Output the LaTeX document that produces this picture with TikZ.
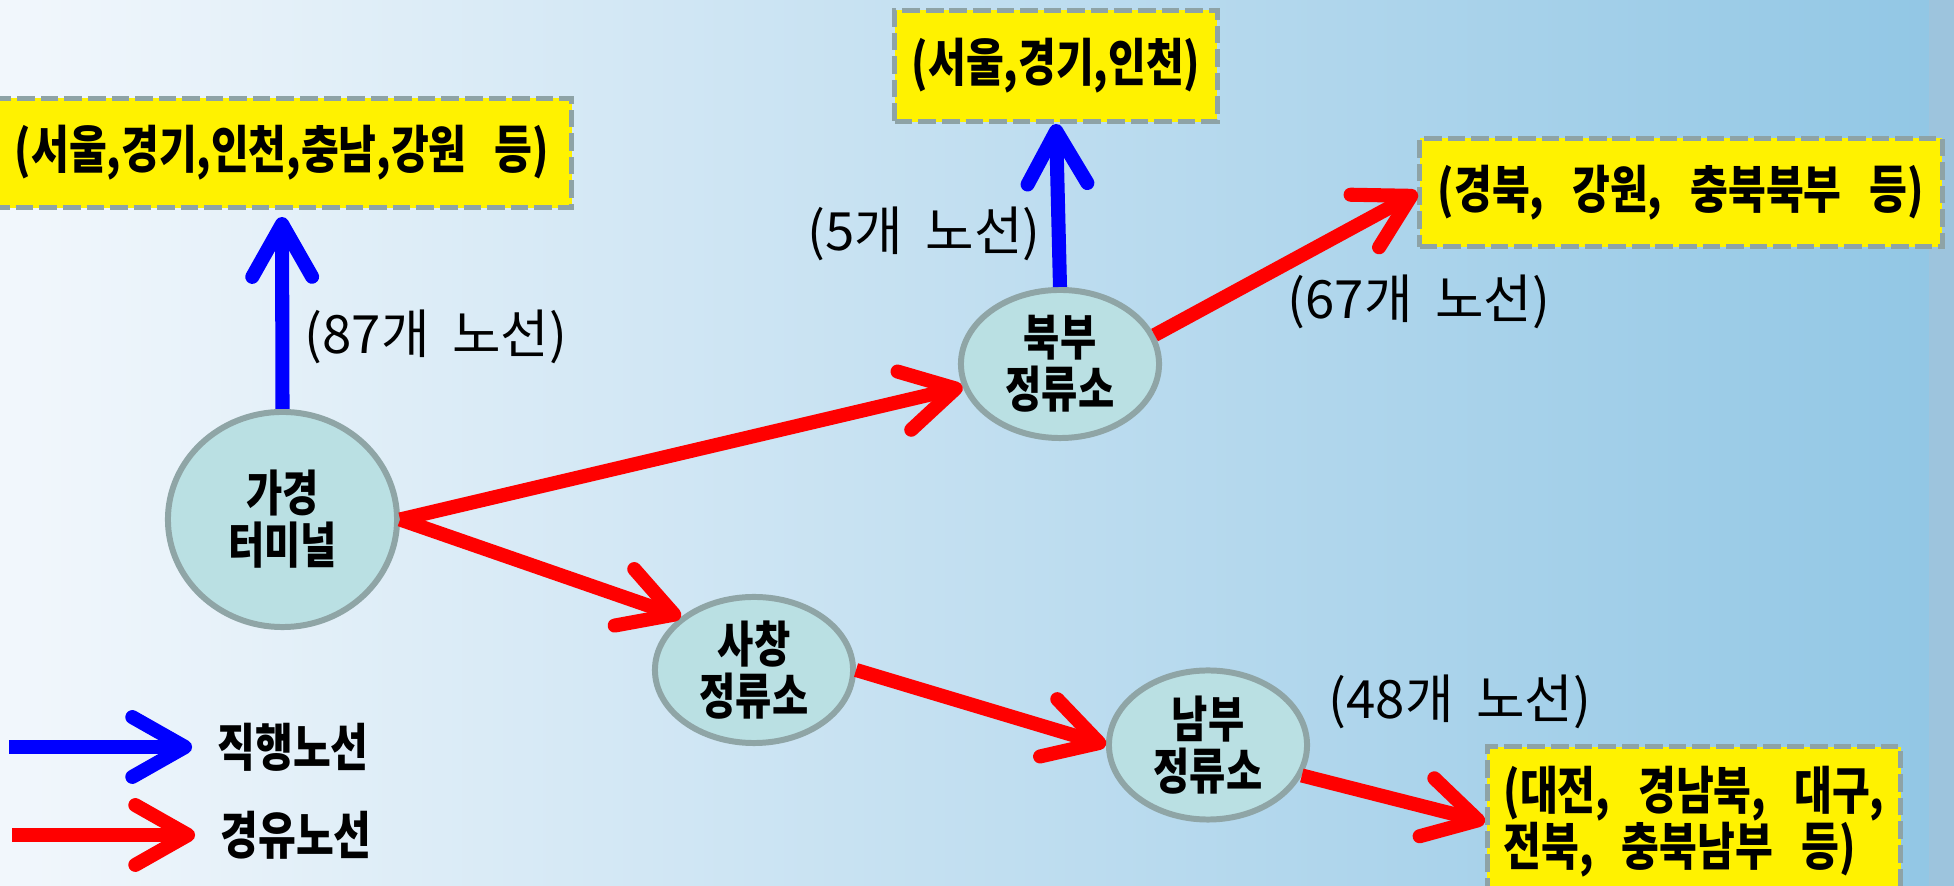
\documentclass[tikz,border=0pt]{standalone}
\usepackage{fontspec}
\usetikzlibrary{arrows.meta,shapes.geometric}
\newfontfamily\krlabel{Noto Sans CJK KR}[WordSpace=1.9]
\newfontfamily\krbold{Noto Sans CJK KR}[FakeStretch=0.8,WordSpace=3.0]
\definecolor{bgleft}{HTML}{F2F7FC}
\definecolor{bgright}{HTML}{92C7E5}
\definecolor{bgstrip}{HTML}{9DC4DD}
\definecolor{stopfill}{HTML}{BAE0E3}
\definecolor{stopline}{HTML}{8FA5A6}
\definecolor{arealine}{HTML}{8EA3A6}
\begin{document}
\begin{tikzpicture}[x=0.01cm,y=-0.01cm,
    stop/.style={ellipse,draw=stopline,fill=stopfill,line width=1.7pt,inner sep=0pt,align=center,
      font=\krbold\bfseries\fontsize{14}{14.8}\selectfont},
    area/.style={rectangle,draw=arealine,fill=yellow,line width=1.4pt,dash pattern=on 5pt off 1.7pt,
      inner sep=0pt,font=\krbold\bfseries\fontsize{14.6}{16}\selectfont},
    count/.style={inner sep=0pt,font=\krlabel\fontsize{15}{16}\selectfont},
    legend/.style={inner ysep=0pt,inner xsep=7pt,font=\krbold\bfseries\fontsize{14.6}{16}\selectfont},
    direct/.style={draw=blue,line width=4pt,-{Straight Barb[length=15pt,width=17pt,round]}},
    transit/.style={direct,draw=red}]
  \useasboundingbox (0,0) rectangle (1954,886);
  \shade[left color=bgleft,right color=bgright] (0,0) rectangle (1929,886);
  \fill[bgstrip] (1929,0) rectangle (1954,886);
  \path
    (282.5,519.5) node[stop,minimum width=2.29cm,minimum height=2.15cm] (gagyeong){가경\\터미널}
    (1060,364) node[stop,minimum width=1.98cm,minimum height=1.48cm] (bukbu){북부\\정류소}
    (754,670) node[stop,minimum width=1.98cm,minimum height=1.46cm] (sachang){사창\\정류소}
    (1208,745) node[stop,minimum width=1.98cm,minimum height=1.49cm] (nambu){남부\\정류소}
    (282,153) node[area,minimum width=5.79cm,minimum height=1.09cm] (capital){(서울,경기,인천,충남,강원 등)}
    (1056,66) node[area,minimum width=3.22cm,minimum height=1.11cm] (north){(서울,경기,인천)}
    (1681,192.5) node[area,minimum width=5.22cm,minimum height=1.08cm] (east){(경북, 강원, 충북북부 등)}
    (1694,822) node[area,minimum width=4.13cm,minimum height=1.5cm,align=left] (south){(대전, 경남북, 대구,\\전북, 충북남부 등)}
    (436,337) node[count] (n87){(87개 노선)}
    (924,234) node[count] (n5){(5개 노선)}
    (1419,302) node[count] (n67){(67개 노선)}
    (1460,702) node[count] (n48){(48개 노선)}
    (293,747) node[legend] (directText){직행노선}
    (296,835) node[legend] (transitText){경유노선};
  \coordinate (directStart) at (9,747);
  \coordinate (transitStart) at (12,835);
  \begin{scope}
    \draw[direct,shorten >=2pt] (gagyeong.north) -- (capital.south);
    \draw[direct] (bukbu.north) -- (north.south);
    \draw[transit] (gagyeong.east) -- (bukbu);
    \draw[transit] (gagyeong.east) -- (sachang.144);
    \draw[transit] (sachang.east) -- (nambu.west);
    \draw[transit] (bukbu.17) -- (east.west);
    \draw[transit] (nambu.-18) -- (south.west);
    \draw[direct] (directStart) -- (directText.west);
    \draw[transit] (transitStart) -- (transitText.west);
  \end{scope}
\end{tikzpicture}
\end{document}
